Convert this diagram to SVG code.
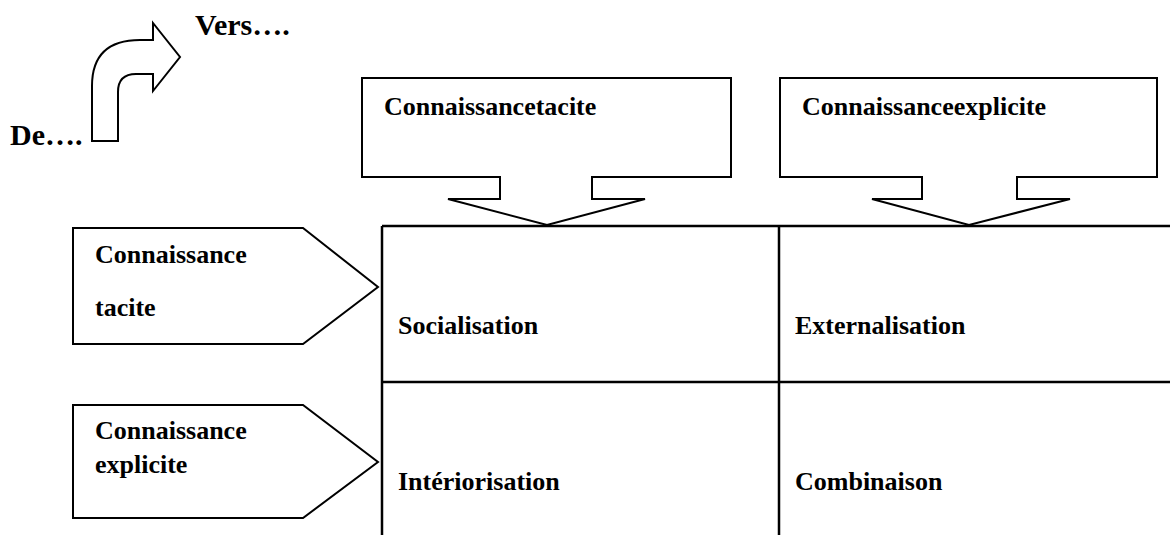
<svg xmlns="http://www.w3.org/2000/svg" width="1170" height="535" viewBox="0 0 1170 535">
<style>
.s{fill:#fff;stroke:#000;stroke-width:2;stroke-linejoin:miter}
.g{stroke:#000;stroke-width:2.5;fill:none}
.t{font-size:26px}
.b{font-size:30px}
</style>
<rect width="1170" height="535" fill="#fff"/>
<g font-family="'Liberation Serif', 'Times New Roman', Times, 'DejaVu Serif', serif" font-weight="bold" fill="#000">
<g id="legend">
<path class="s" d="M92,141 L92,86 Q92,40 140,40 L153,40 L153,23 L180,57 L153,91 L153,74 L136,74 Q118,74 118,92 L118,141 Z"/>
<text class="b" x="10" y="145">De….</text>
<text class="b" x="195" y="35">Vers….</text>
</g>
<g id="grid">
<line class="g" x1="382" y1="226" x2="1170" y2="226"/>
<line class="g" x1="382" y1="226" x2="382" y2="535"/>
<line class="g" x1="779" y1="226" x2="779" y2="535"/>
<line class="g" x1="382" y1="382" x2="1170" y2="382"/>
</g>
<g id="col-tacite">
<path class="s" d="M362,78 H731 V177 H592 V199 H645 L547,225 L448,199 H500 V177 H362 Z"/>
<text class="t" x="384" y="115">Connaissancetacite</text>
</g>
<g id="col-explicite">
<path class="s" d="M780,78 H1157 V177 H1017 V199 H1070 L969,225 L872,199 H922 V177 H780 Z"/>
<text class="t" x="802" y="115">Connaissanceexplicite</text>
</g>
<g id="row-tacite">
<path class="s" d="M73,228 H303 L378,287 L303,344 H73 Z"/>
<text class="t" x="95" y="263">Connaissance</text>
<text class="t" x="95" y="316">tacite</text>
</g>
<g id="row-explicite">
<path class="s" d="M73,405 H303 L378,462 L303,518 H73 Z"/>
<text class="t" x="95" y="439">Connaissance</text>
<text class="t" x="95" y="473">explicite</text>
</g>
<g id="cell-socialisation"><text class="t" x="398" y="334">Socialisation</text></g>
<g id="cell-externalisation"><text class="t" x="795" y="334">Externalisation</text></g>
<g id="cell-interiorisation"><text class="t" x="398" y="490">Intériorisation</text></g>
<g id="cell-combinaison"><text class="t" x="795" y="490">Combinaison</text></g>
</g>
</svg>
